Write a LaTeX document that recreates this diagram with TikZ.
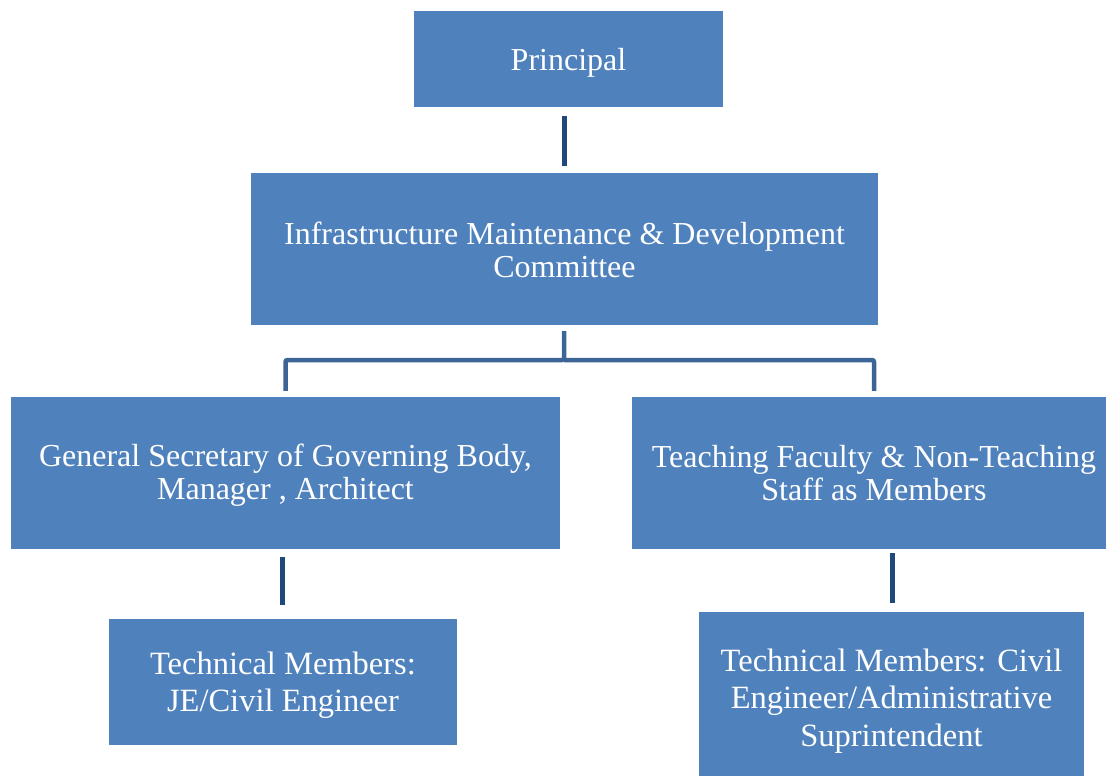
\documentclass[tikz,border=0pt]{standalone}
\usepackage{fontspec}
\setmainfont{Liberation Serif}
\definecolor{boxblue}{HTML}{4F81BD}
\definecolor{linedark}{HTML}{1F497D}
\definecolor{linemid}{HTML}{3D6496}
\begin{document}
\begin{tikzpicture}[x=1pt,y=-1pt,
  box/.style={fill=boxblue, draw=none, inner sep=0pt},
  txt/.style={text=white, align=center, inner sep=0pt,
    font=\fontsize{32}{33}\selectfont},
  lowtxt/.style={txt, font=\fontsize{32.5}{37.5}\selectfont},
  vline/.style={draw=linedark, line width=5pt},
  bracket/.style={draw=linemid, line width=4.5pt, rounded corners=2pt}]
\clip (0,0) rectangle (1106,776);
\node[box, minimum width=309pt, minimum height=96pt] (P) at (568.5,59) {};
\node[box, minimum width=627pt, minimum height=152pt] (I) at (564.5,249) {};
\node[box, minimum width=549pt, minimum height=152pt] (G) at (285.5,473) {};
\node[box, minimum width=484pt, minimum height=152pt] (T) at (874,473) {};
\node[box, minimum width=348pt, minimum height=126pt] (J) at (283,682) {};
\node[box, minimum width=385pt, minimum height=168pt] (C) at (891.5,696) {};
\node[txt] (Pt) at ([yshift=-4pt]P.center) {Principal};
\node[txt] (It) at ([yshift=-1pt]I.center) {Infrastructure Maintenance \& Development\\Committee};
\node[txt] (Gt) at ([yshift=-2pt]G.center) {General Secretary of Governing Body,\\Manager , Architect};
\node[txt] (Tt) at (T.center) {Teaching Faculty \& Non-Teaching\\Staff as Members};
\node[lowtxt] (Jt) at ([yshift=-3pt]J.center) {Technical Members:\\JE/Civil Engineer};
\node[lowtxt] (Ct) at ([yshift=-5pt]C.center) {Technical Members: Civil\\Engineer/Administrative\\Suprintendent};
\coordinate (bar) at (564,360);
\draw[vline, shorten <=7pt, shorten >=9pt] (I.north -| 564,0) -- (P.south -| 564,0);
\draw[bracket, shorten <=6pt, shorten >=6pt] (I.south -| bar) -- (bar) -| (G.north);
\draw[bracket, shorten >=6pt] (bar) -| (T.north);
\draw[vline, shorten <=8pt, shorten >=14pt] (G.south -| 282,0) -- (J.north -| 282,0);
\draw[vline, shorten <=4pt, shorten >=9pt] (T.south -| 892,0) -- (C.north -| 892,0);
\end{tikzpicture}
\end{document}
